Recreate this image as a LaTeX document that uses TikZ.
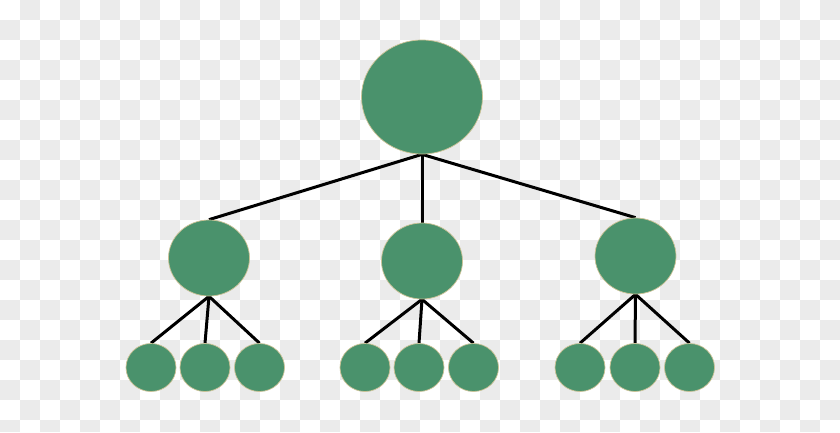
\documentclass[tikz,border=0pt]{standalone}
\usepackage{tikz}
\usetikzlibrary{shapes,backgrounds}
\definecolor{treegreen}{HTML}{4A926C}
\definecolor{rimtan}{HTML}{CBC295}
\definecolor{checkgray}{HTML}{EBEBEB}

\begin{document}
\begin{tikzpicture}[x=1pt,y=-1pt]

\pgfdeclarelayer{background}
\pgfdeclarelayer{foreground}
\pgfsetlayers{background,main,foreground}

\tikzstyle{rootblock} = [ellipse, draw=rimtan, line width=0.7pt, fill=treegreen, minimum width=121pt, minimum height=114pt, inner sep=0pt]
\tikzstyle{midblock} = [ellipse, draw=rimtan, line width=0.7pt, fill=treegreen, minimum width=81pt, minimum height=76pt, inner sep=0pt]
\tikzstyle{leafblock} = [ellipse, draw=rimtan, line width=0.7pt, fill=treegreen, minimum width=50pt, minimum height=48pt, inner sep=0pt]
\tikzstyle{branch} = [draw=black, line width=3pt]

\useasboundingbox (0,0) rectangle (840,432);

%Root: top centre

\path (422,97) node (root) [rootblock] {};

%Second level

\path (root)+(-213,161) node (mid_l) [midblock] {};
\path (root)+(0,164) node (mid_c) [midblock] {};
\path (root)+(213.5,159) node (mid_r) [midblock] {};

%Leaves: left group

\path (mid_l)+(-58,109.5) node (leaf_l1) [leafblock] {};
\path (mid_l)+(-4,109.5) node (leaf_l2) [leafblock] {};
\path (mid_l)+(50.5,109.5) node (leaf_l3) [leafblock] {};

%Leaves: middle group

\path (mid_c)+(-57,106.5) node (leaf_c1) [leafblock] {};
\path (mid_c)+(-3,106.5) node (leaf_c2) [leafblock] {};
\path (mid_c)+(51.5,106.5) node (leaf_c3) [leafblock] {};

%Leaves: right group

\path (mid_r)+(-55.5,111.5) node (leaf_r1) [leafblock] {};
\path (mid_r)+(-0.5,111.5) node (leaf_r2) [leafblock] {};
\path (mid_r)+(54,111.5) node (leaf_r3) [leafblock] {};

\begin{pgfonlayer}{background}

%Checkerboard

\fill[white] (0,0) rectangle (840,432);
\foreach \i in {0,...,41}{
  \foreach \j in {0,...,21}{
    \pgfmathtruncatemacro{\odd}{mod(\i+\j,2)}
    \ifnum\odd=1
      \fill[checkgray] (\i*20,\j*20) rectangle (\i*20+20,{min(\j*20+20,432)});
    \fi
  }
}

%Branches

\foreach \m in {mid_l,mid_c,mid_r}
  \draw[branch] (root.south) -- (\m.north);

\foreach \k in {l,c,r}
  \foreach \n in {1,2,3}
    \draw[branch] (mid_\k.south) -- (leaf_\k\n.north);

\end{pgfonlayer}

\end{tikzpicture}
\end{document}
